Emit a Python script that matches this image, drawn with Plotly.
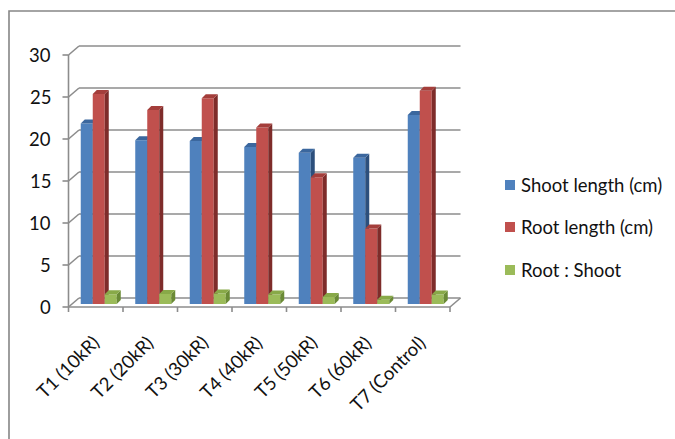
import plotly.graph_objects as go

# ---- data ----
categories = ["T1 (10kR)", "T2 (20kR)", "T3 (30kR)", "T4 (40kR)",
              "T5 (50kR)", "T6 (60kR)", "T7 (Control)"]
shoot_length = [21.5, 19.5, 19.4, 18.7, 18.0, 17.4, 22.5]
root_length = [25.0, 23.1, 24.5, 21.0, 15.1, 9.0, 25.4]
root_shoot = [1.16, 1.18, 1.26, 1.12, 0.84, 0.52, 1.13]
series_names = ["Shoot length (cm)", "Root length (cm)", "Root : Shoot"]
y_ticks = [0, 5, 10, 15, 20, 25, 30]

# ---- styling ----
FONT = "Lato"
FONT_SIZE = 18.5
TEXT_COLOR = "#111111"
GRID_COLOR = "#8c8c8c"
FACE = ["#4f81bd", "#c0504d", "#9bbb59"]
SIDE = ["#2c4f7c", "#7e2c2a", "#6a8a35"]
TOP = ["#3b679e", "#a43e3b", "#88a948"]

# ---- page geometry (pixels) ----
W, H = 675, 439
ML, MR, MT, MB = 40, 195, 30, 109
X0_PX = 68.5      # left end of the front category axis
CAT_PX = 54.5     # width of one category
Y0_PX = 307.0     # front floor line
UNIT_PX = 8.4     # pixels per value unit
PLOT_W = W - ML - MR
PLOT_H = H - MT - MB


def xd(px):
    return (px - X0_PX) / CAT_PX - 0.5


def yd(py):
    return (Y0_PX - py) / UNIT_PX


def ox(px):
    return px / CAT_PX


def oy(px):
    return px / UNIT_PX


def paper_x(px):
    return (px - ML) / PLOT_W


def paper_y(py):
    return (H - MB - py) / PLOT_H


n = len(categories)
x_left, x_right = -0.5, n - 0.5
BACK_DX, BACK_DY = ox(10.5), oy(9)      # depth of the chart box
BAR_DX, BAR_DY = ox(3), oy(3)           # bars sit in the middle depth
DEPTH_DX, DEPTH_DY = ox(4), oy(4)       # depth of each bar
BAR_W = ox(12)

shapes = []


def line(x0, y0, x1, y1, width=1.6, color=GRID_COLOR):
    shapes.append(dict(type="line", xref="x", yref="y",
                       x0=x0, y0=y0, x1=x1, y1=y1, layer="below",
                       line=dict(color=color, width=width)))


# back wall gridlines and left side wall
for v in y_ticks:
    line(x_left + BACK_DX, v + BACK_DY, x_right + BACK_DX, v + BACK_DY)
    line(x_left, v, x_left + BACK_DX, v + BACK_DY)
    line(x_left - ox(6), v, x_left, v)
# front value axis
line(x_left, 0, x_left, y_ticks[-1])
# floor
line(x_left, 0, x_right, 0)
line(x_right, 0, x_right + BACK_DX, BACK_DY)
for k in range(n + 1):
    line(k - 0.5, 0, k - 0.5, -oy(5))

fig = go.Figure()

# 3-D style columns: front, side and top faces per series
for s, values in enumerate([shoot_length, root_length, root_shoot]):
    fx, fy, sx, sy, tx, ty = [], [], [], [], [], []
    for i, v in enumerate(values):
        x0 = i + BAR_DX + (s - 1.5) * BAR_W
        x1 = x0 + BAR_W
        y0 = BAR_DY
        y1 = v + BAR_DY
        fx += [x0, x1, x1, x0, x0, None]
        fy += [y0, y0, y1, y1, y0, None]
        sx += [x1, x1 + DEPTH_DX, x1 + DEPTH_DX, x1, x1, None]
        sy += [y0, y0 + DEPTH_DY, y1 + DEPTH_DY, y1, y0, None]
        tx += [x0, x1, x1 + DEPTH_DX, x0 + DEPTH_DX, x0, None]
        ty += [y1, y1, y1 + DEPTH_DY, y1 + DEPTH_DY, y1, None]
    fig.add_trace(go.Scatter(x=fx, y=fy, fill="toself", mode="lines",
                             line=dict(width=0), fillcolor=FACE[s],
                             name=series_names[s], showlegend=False,
                             hoverinfo="skip"))
    fig.add_trace(go.Scatter(x=sx, y=sy, fill="toself", mode="lines",
                             line=dict(width=0), fillcolor=SIDE[s],
                             showlegend=False, hoverinfo="skip"))
    fig.add_trace(go.Scatter(x=tx, y=ty, fill="toself", mode="lines",
                             line=dict(width=0), fillcolor=TOP[s],
                             showlegend=False, hoverinfo="skip"))

annotations = []
# value axis labels
for v in y_ticks:
    annotations.append(dict(x=x_left - ox(16), y=v, xref="x", yref="y",
                            text=str(v), showarrow=False, xanchor="right",
                            yanchor="middle",
                            font=dict(family=FONT, size=FONT_SIZE, color=TEXT_COLOR)))
# category labels
for i, c in enumerate(categories):
    annotations.append(dict(x=i + ox(10), y=yd(328), xref="x", yref="y",
                            text=c, showarrow=False, textangle=-45,
                            xanchor="right", yanchor="top",
                            font=dict(family=FONT, size=FONT_SIZE, color=TEXT_COLOR)))

# legend
legend_rows_px = [185, 227, 270]
for s, name in enumerate(series_names):
    cy = legend_rows_px[s]
    shapes.append(dict(type="rect", xref="paper", yref="paper",
                       x0=paper_x(505), x1=paper_x(515),
                       y0=paper_y(cy + 5), y1=paper_y(cy - 5),
                       fillcolor=FACE[s], line=dict(width=0)))
    annotations.append(dict(x=paper_x(519), y=paper_y(cy), xref="paper", yref="paper",
                            text=name, showarrow=False, xanchor="left",
                            yanchor="middle",
                            font=dict(family=FONT, size=FONT_SIZE, color=TEXT_COLOR)))

# chart area border (left and top edges visible)
shapes.append(dict(type="rect", xref="paper", yref="paper",
                   x0=paper_x(9), x1=paper_x(W + 20),
                   y0=paper_y(H + 20), y1=paper_y(11),
                   line=dict(color="#868686", width=1.6), fillcolor="rgba(0,0,0,0)"))

fig.update_layout(
    width=W, height=H,
    margin=dict(l=ML, r=MR, t=MT, b=MB),
    paper_bgcolor="white", plot_bgcolor="white",
    xaxis=dict(range=[xd(ML), xd(W - MR)], visible=False, fixedrange=True),
    yaxis=dict(range=[yd(H - MB), yd(MT)], visible=False, fixedrange=True),
    shapes=shapes, annotations=annotations, showlegend=False,
)

fig.write_html("out.html")
